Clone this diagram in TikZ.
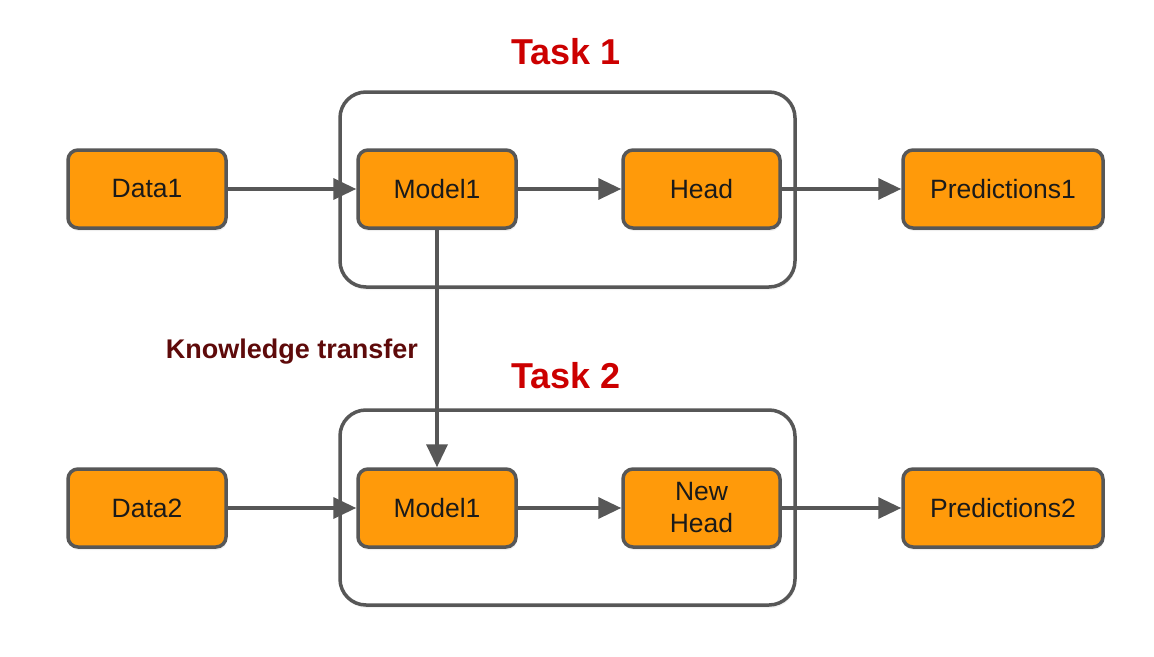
\documentclass[tikz,border=0pt]{standalone}
\usepackage{fontspec}
\setmainfont{Liberation Sans}
\usetikzlibrary{arrows.meta,shadows}
\definecolor{boxorange}{HTML}{FF9A0A}
\definecolor{linegray}{HTML}{575757}
\definecolor{taskred}{HTML}{CC0000}
\definecolor{ktred}{HTML}{5E0A0A}
\definecolor{inktext}{HTML}{1A1A1A}
\tikzset{
  blockbox/.style={draw=linegray, line width=3.5pt, fill=boxorange, rounded corners=10pt,
    minimum height=78pt, inner sep=0pt, align=center, text=inktext,
    font=\fontsize{26.5}{30}\selectfont,
    drop shadow={shadow xshift=1pt, shadow yshift=-3pt, opacity=0.12}},
  taskbox/.style={draw=linegray, line width=3.5pt, rounded corners=26pt,
    minimum width=455pt, minimum height=195pt, inner sep=0pt,
    drop shadow={shadow xshift=1pt, shadow yshift=-3pt, opacity=0.10}},
  tasklabel/.style={text=taskred, font=\bfseries\fontsize{36}{40}\selectfont},
  flow/.style={draw=linegray, line width=3.5pt, -{Triangle[length=23pt,width=21pt]}},
}
\begin{document}
\begin{tikzpicture}[x=1pt,y=-1pt]
\useasboundingbox[fill=white] (0,0) rectangle (1154,656);
% task containers
\node[taskbox, fill=white] (task1) at (567.5,189.5) {};
\node[taskbox, fill=white] (task2) at (567.5,507.5) {};
\node[tasklabel] (t1label) at (566,52) {Task 1};
\node[tasklabel] (t2label) at (566,376) {Task 2};
% task 1 row
\node[blockbox, minimum width=158pt] (data1) at (147,189) {Data1};
\node[blockbox, minimum width=158pt] (model1) at (437,189) {Model1};
\node[blockbox, minimum width=157pt] (head1) at (701.5,189) {Head};
\node[blockbox, minimum width=200pt] (pred1) at (1003,189) {Predictions1};
% task 2 row
\node[blockbox, minimum width=158pt] (data2) at (147,508) {Data2};
\node[blockbox, minimum width=158pt] (model2) at (437,508) {Model1};
\node[blockbox, minimum width=157pt, font=\fontsize{26.5}{32}\selectfont] (head2) at (701.5,508) {New\\Head};
\node[blockbox, minimum width=200pt] (pred2) at (1003,508) {Predictions2};
% label
\node[text=ktred, font=\bfseries\fontsize{27}{30}\selectfont] (kt) at (292,352) {Knowledge transfer};
% connectors
\draw[flow] (data1) -- (model1);
\draw[flow] (model1) -- (head1);
\draw[flow] (head1) -- (pred1);
\draw[flow] (data2) -- (model2);
\draw[flow] (model2) -- (head2);
\draw[flow] (head2) -- (pred2);
\draw[flow] (model1) -- (model2);
\end{tikzpicture}
\end{document}
